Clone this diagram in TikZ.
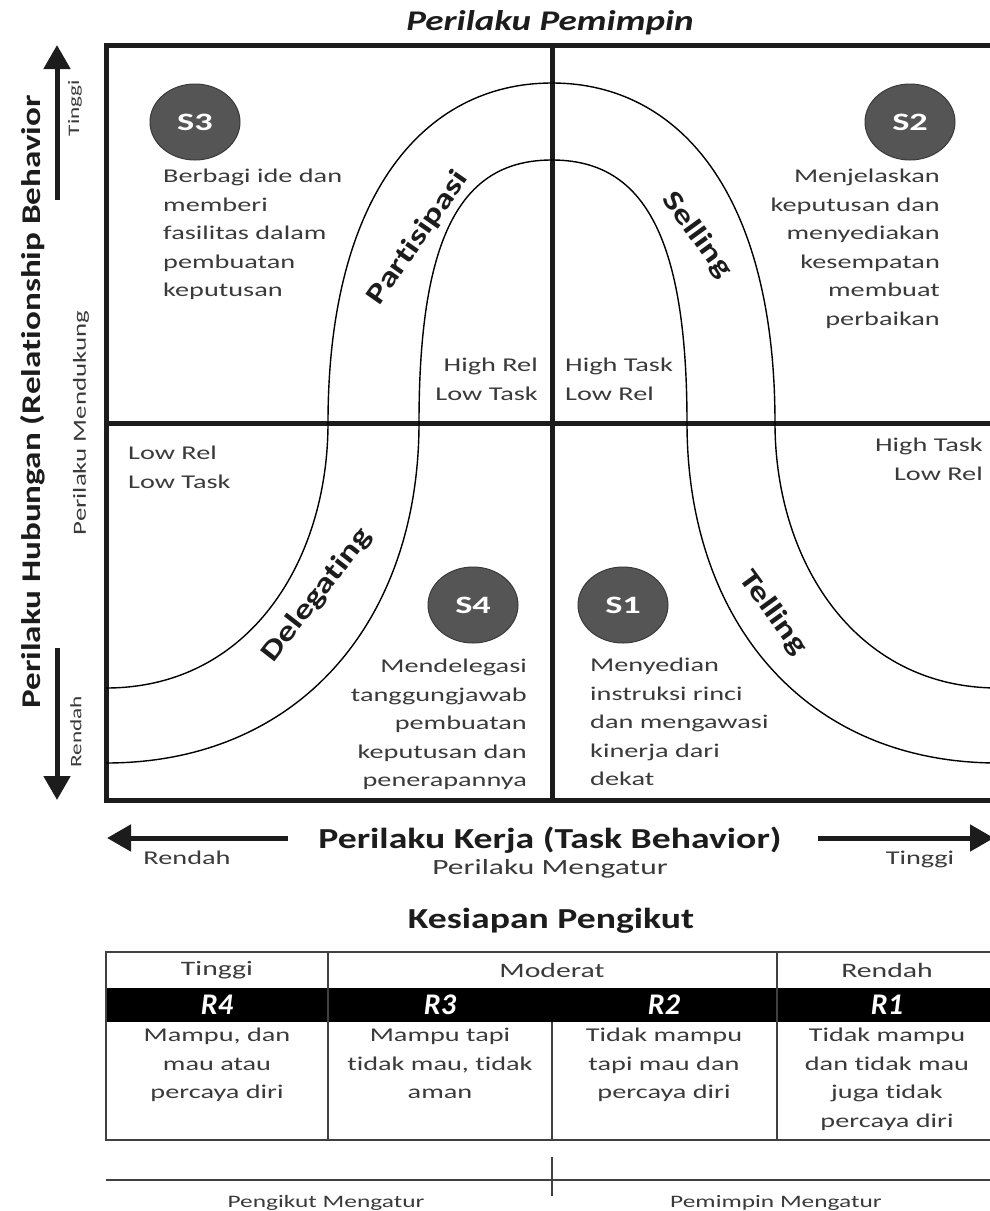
\documentclass[tikz,border=0pt]{standalone}
\usepackage{fontspec}
\usetikzlibrary{arrows.meta,shapes.geometric}
\setmainfont{Carlito}[Ligatures=NoCommon]
\newfontfamily\wide{Carlito}[FakeStretch=1.45, Ligatures=NoCommon]
\newfontfamily\semiwide{Carlito}[FakeStretch=1.3, Ligatures=NoCommon]
\newfontfamily\plain{Carlito}[Ligatures=NoCommon]
\definecolor{txt}{HTML}{3A3A3A}
\definecolor{ink}{HTML}{1C1C1C}
\definecolor{discfill}{HTML}{555555}
\definecolor{discedge}{HTML}{3A3A3A}
\definecolor{rule}{HTML}{404040}

\begin{document}
\begin{tikzpicture}[x=1pt,y=-1pt,
  body/.style={font=\wide\fontsize{19.5}{28.5}\selectfont, text=txt, inner sep=0pt},
  small/.style={font=\wide\fontsize{17.5}{21}\selectfont, text=txt, inner sep=0pt},
  vsmall/.style={font=\wide\fontsize{16}{19}\selectfont, text=txt, inner sep=0pt, rotate=90},
  heading/.style={font=\semiwide\bfseries\fontsize{29}{33}\selectfont, text=ink, inner sep=0pt},
  curvelabel/.style={font=\semiwide\bfseries\fontsize{28}{32}\selectfont, text=ink, inner sep=0pt},
  disc/.style={ellipse, fill=discfill, draw=discedge, line width=1pt,
    minimum width=90pt, minimum height=76pt, inner sep=0pt, text=white,
    font=\wide\bfseries\fontsize{25}{30}\selectfont},
  rlabel/.style={font=\plain\bfseries\itshape\fontsize{30}{32}\selectfont, text=white, inner sep=0pt},
  frame/.style={line width=5pt, ink},
  arch/.style={line width=1.4pt, black},
  axisarrow/.style={line width=5pt, ink, -{Triangle[length=24pt,width=26pt]}},
  tabline/.style={line width=2.5pt, rule}
]
\useasboundingbox (0,0) rectangle (990,1211);
\clip (0,0) rectangle (990,1211);

% title
\node[heading, font=\semiwide\bfseries\itshape\fontsize{28.5}{32}\selectfont, anchor=base] (title) at (550,30) {Perilaku Pemimpin};

% the four quadrants
\draw[frame] (106,45) rectangle (998,800);
\draw[frame] (552,45) -- (552,800);
\draw[frame] (106,423) -- (998,423);

% outer and inner curves of the style path
\draw[arch] (106,688) .. controls (250,688) and (328,560) .. (328,423)
  .. controls (328,195) and (424,83) .. (552,83)
  .. controls (680,83) and (775,195) .. (775,423)
  .. controls (775,560) and (854,688) .. (998,688);
\draw[arch] (106,763) .. controls (300,763) and (419,620) .. (419,423)
  .. controls (419,230) and (464,160) .. (552,160)
  .. controls (640,160) and (687,230) .. (687,423)
  .. controls (687,620) and (804,763) .. (998,763);

% curve labels
\node[curvelabel, rotate=55] (partisipasi) at (418,238) {Partisipasi};
\node[curvelabel, rotate=-54] (selling) at (697,235) {Selling};
\node[curvelabel, rotate=52] (delegating) at (317,595) {Delegating};
\node[curvelabel, rotate=-54] (telling) at (773,613) {Telling};

% style discs
\node[disc] (s3) at (195,122) {S3};
\node[disc] (s2) at (910,122) {S2};
\node[disc] (s4) at (473,605) {S4};
\node[disc] (s1) at (623,605) {S1};

% quadrant descriptions
\node[body, anchor=north west, align=left] (d3) at (163,169)
  {Berbagi ide dan\\memberi\\fasilitas dalam\\pembuatan\\keputusan};
\node[body, anchor=north east, align=right] (d2) at (940,169)
  {Menjelaskan\\keputusan dan\\menyediakan\\kesempatan\\membuat\\perbaikan};
\node[body, anchor=north east, align=right] (d4) at (527,659)
  {Mendelegasi\\tanggungjawab\\pembuatan\\keputusan dan\\penerapannya};
\node[body, anchor=north west, align=left] (d1) at (590,658)
  {Menyedian\\instruksi rinci\\dan mengawasi\\kinerja dari\\dekat};

% task / relationship labels
\node[body, anchor=north east, align=right] (hrlt) at (538,358) {High Rel\\Low Task};
\node[body, anchor=north west, align=left] (htlr) at (565,358) {High Task\\Low Rel};
\node[body, anchor=north west, align=left] (lrlt) at (128,446) {Low Rel\\Low Task};
\node[body, anchor=north east, align=right] (htlr2) at (983,438) {High Task\\Low Rel};

% vertical axis
\node[heading, font=\semiwide\bfseries\fontsize{27}{30}\selectfont, rotate=90] (vaxis) at (33,402)
  {Perilaku Hubungan (Relationship Behavior};
\node[vsmall, font=\wide\fontsize{18.5}{22}\selectfont] (vsub) at (81,423) {Perilaku Mendukung};
\node[vsmall] (vhigh) at (75,108) {Tinggi};
\node[vsmall] (vlow) at (76,732) {Rendah};
\coordinate (vupa) at (57,200);
\coordinate (vupb) at (57,45);
\coordinate (vdna) at (57,648);
\coordinate (vdnb) at (57,800);
\draw[axisarrow] (vupa) -- (vupb);
\draw[axisarrow] (vdna) -- (vdnb);

% horizontal axis
\node[heading, anchor=base] (haxis) at (550,848) {Perilaku Kerja (Task Behavior)};
\node[body, font=\wide\fontsize{21.7}{26}\selectfont, anchor=base] (hsub) at (550,874) {Perilaku Mengatur};
\node[body, anchor=base] (hlow) at (187,864) {Rendah};
\node[body, anchor=base] (hhigh) at (920,864) {Tinggi};
\coordinate (hla) at (288,838);
\coordinate (hlb) at (107,838);
\coordinate (hra) at (818,838);
\coordinate (hrb) at (994,838);
\draw[axisarrow] (hla) -- (hlb);
\draw[axisarrow] (hra) -- (hrb);

% follower readiness table
\node[heading, anchor=base] (ready) at (551,928) {Kesiapan Pengikut};
\fill[black] (106,988) rectangle (998,1022);
\draw[tabline] (106,952) rectangle (998,1140);
\draw[tabline] (328,952) -- (328,1140);
\draw[tabline] (777,952) -- (777,1140);
\draw[tabline] (552,1022) -- (552,1140);

\node[body, font=\wide\fontsize{20.5}{28.5}\selectfont] (c4) at (217,970) {Tinggi};
\node[body, font=\wide\fontsize{20.5}{28.5}\selectfont] (cm) at (552,970) {Moderat};
\node[body, font=\wide\fontsize{20.5}{28.5}\selectfont] (c1) at (887,970) {Rendah};

\node[rlabel] (r4) at (217,1005) {R4};
\node[rlabel] (r3) at (440,1005) {R3};
\node[rlabel] (r2) at (664,1005) {R2};
\node[rlabel] (r1) at (887,1005) {R1};

\node[body, anchor=north, align=center] (t4) at (217,1028) {Mampu, dan\\mau atau\\percaya diri};
\node[body, anchor=north, align=center] (t3) at (440,1028) {Mampu tapi\\tidak mau, tidak\\aman};
\node[body, anchor=north, align=center] (t2) at (664,1028) {Tidak mampu\\tapi mau dan\\percaya diri};
\node[body, anchor=north, align=center] (t1) at (887,1028) {Tidak mampu\\dan tidak mau\\juga tidak\\percaya diri};

% who directs
\draw[tabline] (106,1180) -- (998,1180);
\draw[tabline] (552,1157) -- (552,1196);
\node[small] (pf) at (326,1203) {Pengikut Mengatur};
\node[small] (pl) at (776,1203) {Pemimpin Mengatur};
\end{tikzpicture}
\end{document}
